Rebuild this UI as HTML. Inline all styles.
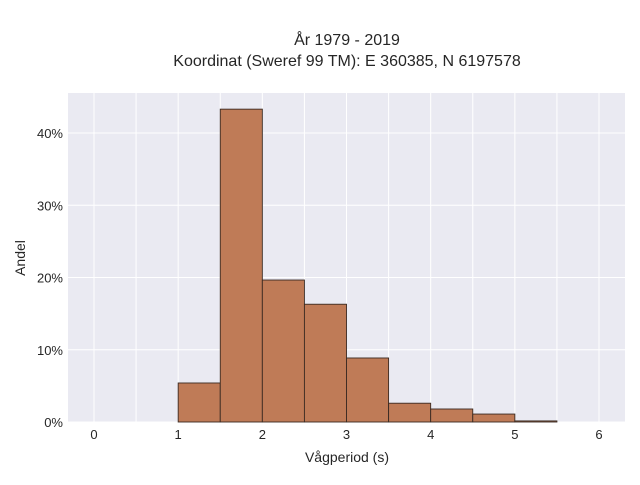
<!DOCTYPE html>
<html><head><meta charset="utf-8"><style>
body{margin:0;background:#fff;font-family:"Liberation Sans",sans-serif}
</style></head><body>
<svg id="c" width="640" height="480" style="font-family:'Liberation Sans',sans-serif">
<text x="347" y="45" text-anchor="middle" font-size="16" fill="#262626">År 1979 - 2019</text>
<text x="347" y="66" text-anchor="middle" font-size="16" fill="#262626">Koordinat (Sweref 99 TM): E 360385, N 6197578</text>
<rect x="68" y="93" width="557" height="329" fill="#eaeaf2"/>
<g id="grid"></g><g id="bars"></g><g id="ticks"></g>
<text x="347" y="462" text-anchor="middle" font-size="14" fill="#262626">Vågperiod (s)</text>
<text transform="translate(25,258) rotate(-90)" text-anchor="middle" font-size="14" fill="#262626">Andel</text>
</svg>
<script>
const binStarts=[1,1.5,2,2.5,3,3.5,4,4.5,5];
const shares=[5.4,43.3,19.65,16.3,8.86,2.6,1.8,1.1,0.15];
const binWidth=0.5;
const xTicks=[0,1,2,3,4,5,6];
const yTicks=[0,10,20,30,40];
const NS="http://www.w3.org/2000/svg";
const X=v=>94+v*84.17, Y=v=>422-v*7.225;
function mk(t,a,p){const e=document.createElementNS(NS,t);for(const k in a)e.setAttribute(k,a[k]);document.getElementById(p).appendChild(e);return e;}
for(let v=-0.5;v<=6.5;v+=0.5){const x=X(v);if(x<68||x>625)continue;
const l=mk('line',{x1:x,x2:x,y1:93,y2:422,stroke:'#fff','stroke-width':1},'grid');

}
yTicks.forEach(v=>{const l=mk('line',{x1:68,x2:625,y1:Y(v),y2:Y(v),stroke:'#fff','stroke-width':1},'grid');


const t=mk('text',{x:63,y:Y(v)+5,'text-anchor':'end','font-size':13,fill:'#262626'},'ticks');t.textContent=v+'%';

});
xTicks.forEach(v=>{const t=mk('text',{x:X(v),y:439,'text-anchor':'middle','font-size':13,fill:'#262626'},'ticks');t.textContent=v;

});
binStarts.forEach((s,i)=>{const r=mk('rect',{x:X(s),y:Y(shares[i]),width:X(s+binWidth)-X(s),height:Y(0)-Y(shares[i]),fill:'#bf7b57',stroke:'#3a2a22','stroke-width':0.9},'bars');

});
</script>
</body></html>
